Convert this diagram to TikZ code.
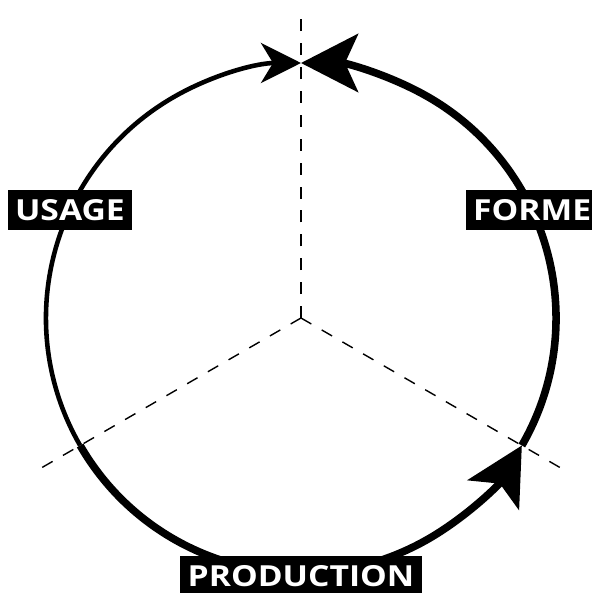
\documentclass[tikz,border=0pt]{standalone}
\usepackage{fontspec}
\newfontfamily\stagefont{Open Sans}[FakeStretch=1.16]
\usetikzlibrary{arrows.meta}

\tikzset{
  stage/.style={fill=black, text=white, font=\stagefont\bfseries\fontsize{16.5}{16.5}\selectfont,
    inner sep=0pt, inner xsep=0.15cm, minimum height=0.8cm},
  axis/.style={dash pattern=on 6.8pt off 6.8pt, line width=0.8pt},
  thin arc/.style={line width=2.6pt},
  thick arc/.style={line width=4.3pt},
}

\begin{document}
\begin{tikzpicture}
\useasboundingbox (-6.02,-5.5) rectangle (5.82,6.36);
\def\rad{5.1}
\coordinate (c) at (0,0);
\coordinate (top) at (90:\rad);
\coordinate (left) at (210:\rad);
\coordinate (right) at (330:\rad);
\coordinate (axis top) at (90:6.06);
\coordinate (axis left) at (210:6.06);
\coordinate (axis right) at (330:6.06);
% three axes
\draw [axis] (c) -- (axis top);
\draw [axis] (c) -- (axis left);
\draw [axis] (c) -- (axis right);
% the cycle
\draw [thin arc, -{Stealth[length=0.8cm, width=0.8cm, inset=0.24cm]}] (left) arc[start angle=210, end angle=90, radius=\rad];
\draw [thick arc, -{Stealth[length=1.14cm, width=1.18cm, inset=0.26cm]}] (left) arc[start angle=210, end angle=330, radius=\rad];
\draw [thick arc, -{Stealth[length=1.14cm, width=1.16cm, inset=0.26cm]}] (right) arc[start angle=330, end angle=450, radius=\rad];
% labels
\node [stage] (usage) at (155:\rad) {USAGE};
\node [stage] (forme) at (25:\rad) {FORME};
\node [stage] (production) at (270:5.16) {PRODUCTION};
\end{tikzpicture}
\end{document}
